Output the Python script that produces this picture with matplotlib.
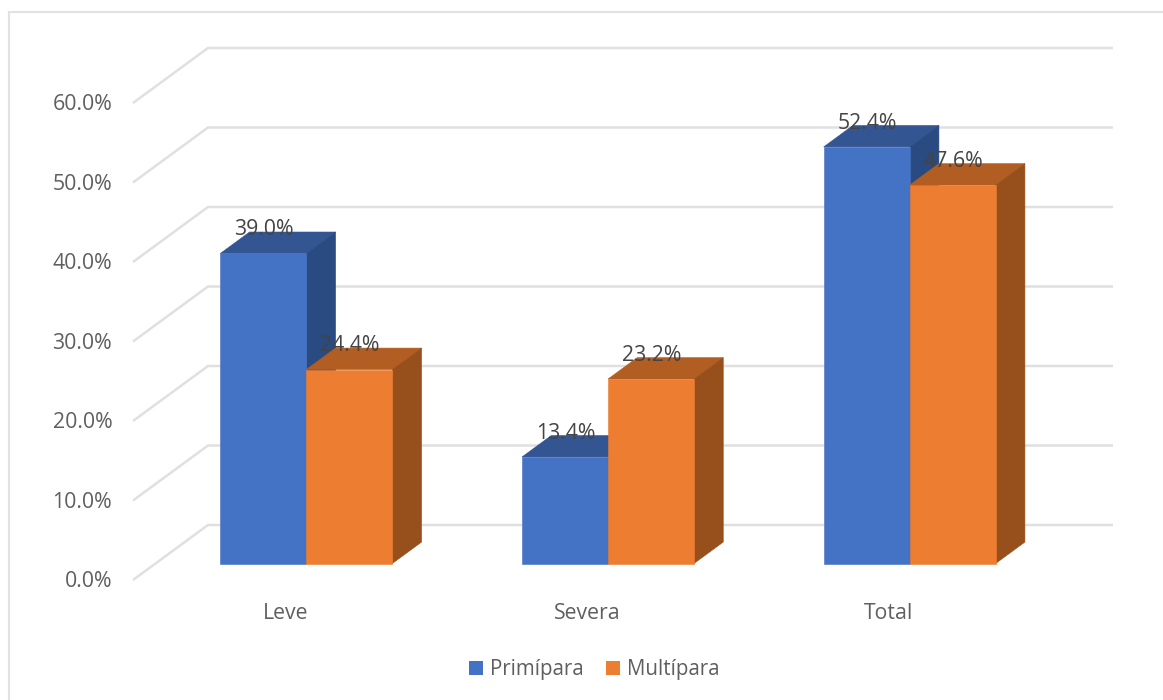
import matplotlib
matplotlib.use("Agg")
import matplotlib.pyplot as plt
from matplotlib.lines import Line2D
from matplotlib.patches import Patch, Polygon
from matplotlib.transforms import ScaledTranslation

# Chart data
categories = ["Leve", "Severa", "Total"]
series_names = ["Primípara", "Multípara"]
primipara = [39.0, 13.4, 52.4]
multipara = [24.4, 23.2, 47.6]
y_ticks = [0, 10, 20, 30, 40, 50, 60]

# Colours: front, top and side face of each series
BLUE = ("#4472C4", "#335592", "#2A4A82")
ORANGE = ("#ED7D31", "#B25E22", "#97501C")
GRID = "#E0E0E0"
TEXT = "#5F5F5F"
LABEL = "#444444"

W, H = 1163, 700
plt.rcParams["font.family"] = ["Open Sans", "DejaVu Sans"]
fig = plt.figure(figsize=(W / 100, H / 100), dpi=100)
ax = fig.add_axes([133 / W, 1 - 580 / H, 905 / W, 477 / H])
ax.set_xlim(-0.5, 2.5)
ax.set_ylim(0, 60)
for spine in ax.spines.values():
    spine.set_visible(False)
ax.patch.set_visible(False)

# Oblique projection: depth 0 is the front of the floor, depth 1 the back wall
DX = 75 / (905 / 3)
DY = 55 / (477 / 60)


def project(x, y, depth):
    return x + depth * DX, y + depth * DY


# Gridlines run across the floor edge and then along the back wall
for tick in y_ticks:
    start = project(-0.5, tick, 0)
    corner = project(-0.5, tick, 1)
    end = project(2.5, tick, 1)
    ax.plot([start[0], corner[0], end[0]], [start[1], corner[1], end[1]],
            color=GRID, lw=1.8, clip_on=False, zorder=1,
            solid_joinstyle="miter", solid_capstyle="butt")

BAR_WIDTH = 86 / (905 / 3)
D_FRONT, D_BACK = 0.30, 0.69


def draw_box(left, value, colours, order):
    right = left + BAR_WIDTH
    faces = [
        (colours[1], [project(left, value, D_FRONT), project(right, value, D_FRONT),
                      project(right, value, D_BACK), project(left, value, D_BACK)]),
        (colours[2], [project(right, 0, D_FRONT), project(right, value, D_FRONT),
                      project(right, value, D_BACK), project(right, 0, D_BACK)]),
        (colours[0], [project(left, 0, D_FRONT), project(right, 0, D_FRONT),
                      project(right, value, D_FRONT), project(left, value, D_FRONT)]),
    ]
    for colour, corners in faces:
        ax.add_patch(Polygon(corners, closed=True, facecolor=colour, edgecolor=colour,
                             lw=0.4, clip_on=False, zorder=order))


for i, (a, b) in enumerate(zip(primipara, multipara)):
    draw_box(i - BAR_WIDTH, a, BLUE, 2)
    draw_box(i, b, ORANGE, 3)

# Value labels sit just above the front edge of each bar's top
for i, (a, b) in enumerate(zip(primipara, multipara)):
    for left, value in ((i - BAR_WIDTH, a), (i, b)):
        px, py = project(left + BAR_WIDTH / 2, value, D_FRONT)
        ax.annotate(f"{value:.1f}%", (px, py), xytext=(0.5, 17.2), textcoords="offset points",
                    ha="center", va="center", fontsize=15.3, color=LABEL, zorder=5,
                    annotation_clip=False)

ax.set_xticks(range(len(categories)), categories)
ax.set_yticks(y_ticks, [f"{t:.1f}%" for t in y_ticks])
ax.tick_params(axis="both", length=0, labelsize=15.3, labelcolor=TEXT)
ax.tick_params(axis="y", pad=15)
ax.tick_params(axis="x", pad=16.7)

# Nudge the axis labels off their default anchor points
y_shift = ScaledTranslation(0, 1 / 100, fig.dpi_scale_trans)
for label in ax.get_yticklabels():
    label.set_transform(label.get_transform() + y_shift)
x_shift = ScaledTranslation(1.5 / 100, 0, fig.dpi_scale_trans)
for label in ax.get_xticklabels():
    label.set_transform(label.get_transform() + x_shift)

handles = [Patch(facecolor=BLUE[0], label=series_names[0]),
           Patch(facecolor=ORANGE[0], label=series_names[1])]
fig.legend(handles=handles, loc="center", bbox_to_anchor=(594.5 / W, 1 - 670 / H), ncol=2,
           frameon=False, fontsize=14.8, labelcolor=TEXT, handlelength=0.66, handleheight=0.66,
           handletextpad=0.35, columnspacing=1.1, borderpad=0, borderaxespad=0)

# Outer chart frame, open towards the right and the bottom
fig.add_artist(Line2D([9 / W, 9 / W, 1], [0, 1 - 12 / H, 1 - 12 / H], color="#E2E2E2", lw=1.5,
                      solid_joinstyle="miter"))

fig.savefig("out.png", dpi=100, facecolor="white")
